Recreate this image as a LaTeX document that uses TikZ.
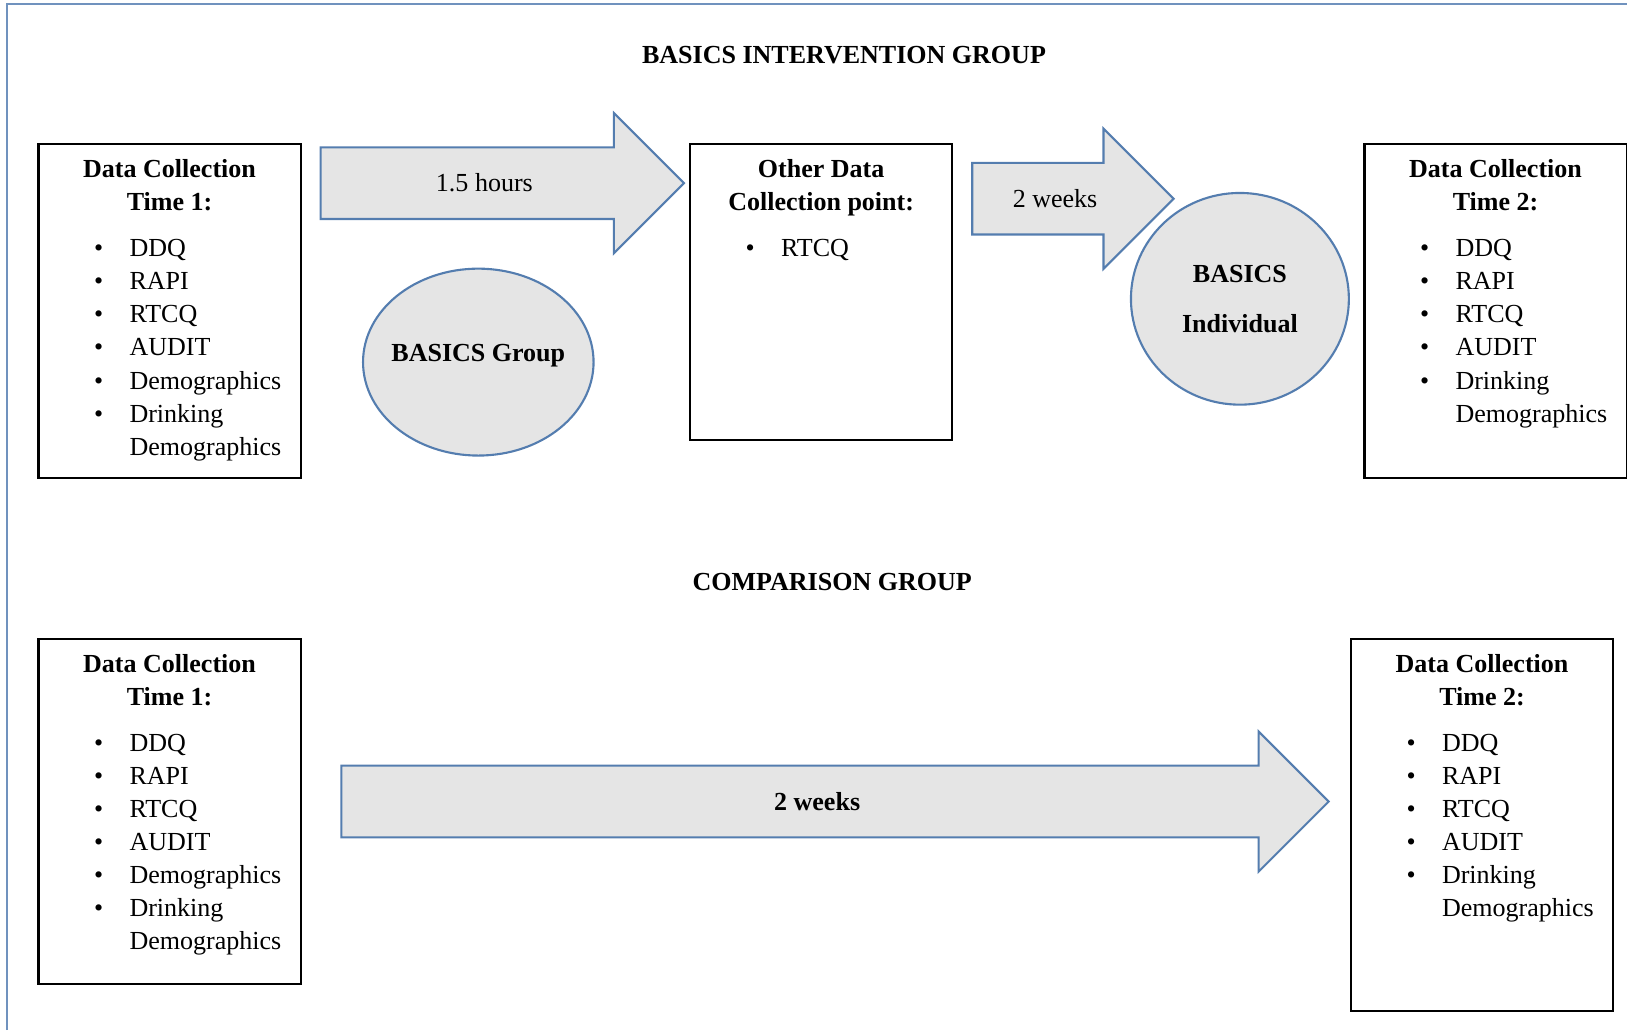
\documentclass[tikz,border=0pt]{standalone}
\usepackage{fontspec}
\setmainfont{Liberation Serif}
\usetikzlibrary{shapes,arrows,positioning}
\definecolor{shapeblue}{RGB}{84,125,175}
\definecolor{shapegray}{RGB}{229,229,229}
\definecolor{framecol}{RGB}{112,146,190}
\newcommand{\dcfont}{\fontsize{7.4pt}{9.4pt}\selectfont}
\tikzstyle{databox}=[rectangle,draw=black,line width=.6pt,inner sep=0pt]
\tikzstyle{blockarrow}=[single arrow,draw=shapeblue,fill=shapegray,line width=.6pt,
                        minimum width=1.38cm,single arrow head extend=.343cm,
                        single arrow tip angle=90,inner sep=0pt,anchor=tail,
                        text height=.435cm,text depth=.26cm]
\tikzstyle{session}=[ellipse,draw=shapeblue,fill=shapegray,line width=.6pt,
                     font=\dcfont\bfseries,align=center,inner sep=0pt]
\tikzstyle{heading}=[font=\dcfont\bfseries]
% one bullet line of a data box
\newcommand{\bul}{\par\leavevmode\llap{\textbullet\hspace{7.5pt}}}
% box text: height, bold heading, bullet list
\newcommand{\boxtext}[3]{\parbox[c][#1][t]{2.62cm}{%
  {\centering\bfseries\rule{0pt}{9.5pt}#2\par}\vspace{3.7pt}%
  {\leftskip=25.9pt #3\par}}}

\begin{document}
\begin{tikzpicture}[x=.01cm,y=-.01cm,font=\dcfont]
  \useasboundingbox (0,0) rectangle (1627,1030);
  \draw[framecol,line width=.75pt] (7,1030) -- (7,4) -- (1627,4);

  % intervention group
  \node[heading] (tint) at (844,55) {BASICS INTERVENTION GROUP};
  \node[databox,anchor=north west] (dcA) at (37.4,143.2)
    {\boxtext{3.331cm}{Data Collection\\Time 1:}{\bul DDQ\bul RAPI\bul RTCQ\bul AUDIT
      \bul Demographics\bul Drinking\\Demographics}};
  \node[blockarrow,minimum height=3.631cm] (hrs) at (319.6,183.2) {1.5 hours};
  \node[session,minimum width=2.304cm,minimum height=1.868cm,text depth=5pt]
    (grp) at (478.3,362.1) {\makebox[1cm]{BASICS Group}};
  \node[databox,anchor=north west] (dcO) at (689,143.2)
    {\boxtext{2.957cm}{Other Data\\Collection point:}{\bul RTCQ}};
  \node[blockarrow,minimum height=2.013cm] (wkA) at (971.2,198.7) {2 weeks};
  \node[session,minimum width=2.178cm,minimum height=2.116cm]
    (ind) at (1239.9,298.8) {BASICS\\[4.8pt]Individual};
  \node[databox,anchor=north west] (dcB) at (1363.4,143.2)
    {\boxtext{3.331cm}{Data Collection\\Time 2:}{\bul DDQ\bul RAPI\bul RTCQ\bul AUDIT
      \bul Drinking\\Demographics}};

  % comparison group
  \node[heading] (tcmp) at (832.2,582.1) {COMPARISON GROUP};
  \node[databox,anchor=north west] (dcC) at (37.4,638)
    {\boxtext{3.445cm}{Data Collection\\Time 1:}{\bul DDQ\bul RAPI\bul RTCQ\bul AUDIT
      \bul Demographics\bul Drinking\\Demographics}};
  \node[blockarrow,minimum height=9.868cm] (wkB) at (340.3,801.5) {\bfseries 2 weeks};
  \node[databox,anchor=north west] (dcD) at (1349.9,638)
    {\boxtext{3.714cm}{Data Collection\\Time 2:}{\bul DDQ\bul RAPI\bul RTCQ\bul AUDIT
      \bul Drinking\\Demographics}};

\end{tikzpicture}
\end{document}
